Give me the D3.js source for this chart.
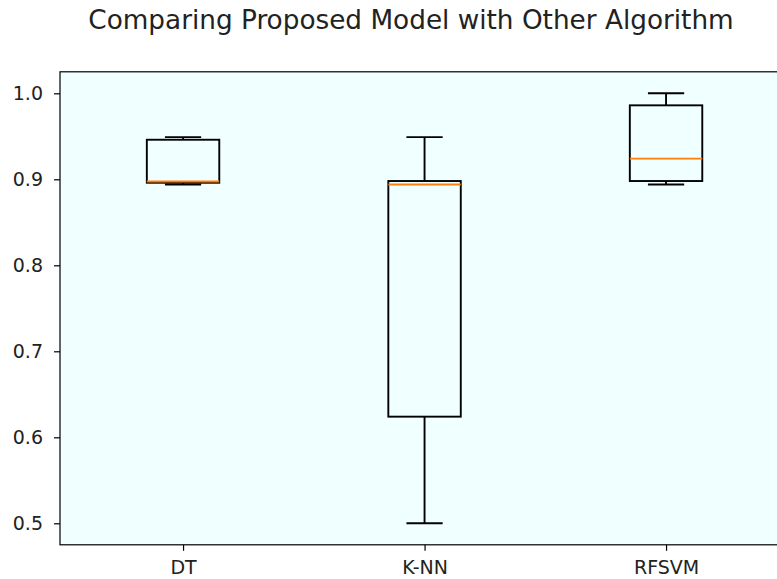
<!DOCTYPE html>
<html>
<head>
<meta charset="utf-8">
<script src="https://cdn.jsdelivr.net/npm/d3@7"></script>
<style>
  body { margin: 0; background: #ffffff; }
  svg { display: block; font-family: "DejaVu Sans", sans-serif; }
</style>
</head>
<body>
<svg id="chart" width="777" height="579"></svg>
<script>
// Data
const categories = ["DT", "K-NN", "RFSVM"];
const whiskerLow  = [0.894, 0.500, 0.894];
const quartile1   = [0.896, 0.624, 0.898];
const medians     = [0.8975, 0.894, 0.924];
const quartile3   = [0.946, 0.898, 0.986];
const whiskerHigh = [0.949, 0.949, 1.000];
const yTicks = [0.5, 0.6, 0.7, 0.8, 0.9, 1.0];
const title = "Comparing Proposed Model with Other Algorithm";

(function () {
const svg = d3.select("#chart");
const pLeft = 60, pRight = 786, pTop = 71.8, pBottom = 544.8;

const x = d3.scaleLinear().domain([0.5, categories.length + 0.5]).range([62.3, 786.8]);
const y = d3.scaleLinear().domain([0.475, 1.025]).range([pBottom, pTop]);

svg.append("rect")
  .attr("x", pLeft).attr("y", pTop)
  .attr("width", pRight - pLeft).attr("height", pBottom - pTop)
  .attr("fill", "#f0ffff");

const boxW = 0.3;
const data = categories.map((c, i) => ({
  c, pos: i + 1,
  lo: whiskerLow[i], q1: quartile1[i], med: medians[i], q3: quartile3[i], hi: whiskerHigh[i]
}));

const g = svg.append("g");
const lw = 1.9;
data.forEach(d => {
  const cx = x(d.pos);
  const hw = x(d.pos + boxW / 2) - cx;
  const cw = hw / 2;
  g.append("line").attr("x1", cx).attr("x2", cx).attr("y1", y(d.q3)).attr("y2", y(d.hi))
    .attr("stroke", "#000").attr("stroke-width", lw);
  g.append("line").attr("x1", cx).attr("x2", cx).attr("y1", y(d.q1)).attr("y2", y(d.lo))
    .attr("stroke", "#000").attr("stroke-width", lw);
  g.append("line").attr("x1", cx - cw).attr("x2", cx + cw).attr("y1", y(d.hi)).attr("y2", y(d.hi))
    .attr("stroke", "#000").attr("stroke-width", lw);
  g.append("line").attr("x1", cx - cw).attr("x2", cx + cw).attr("y1", y(d.lo)).attr("y2", y(d.lo))
    .attr("stroke", "#000").attr("stroke-width", lw);
  g.append("rect").attr("x", cx - hw).attr("width", 2 * hw)
    .attr("y", y(d.q3)).attr("height", y(d.q1) - y(d.q3))
    .attr("fill", "none").attr("stroke", "#000").attr("stroke-width", lw);
  g.append("line").attr("x1", cx - hw).attr("x2", cx + hw).attr("y1", y(d.med)).attr("y2", y(d.med))
    .attr("stroke", "#ff7f0e").attr("stroke-width", lw);
});

svg.append("rect")
  .attr("x", pLeft).attr("y", pTop)
  .attr("width", pRight - pLeft).attr("height", pBottom - pTop)
  .attr("fill", "none").attr("stroke", "#000").attr("stroke-width", 1.2);

const yAxis = svg.append("g").attr("transform", `translate(${pLeft},0)`)
  .call(d3.axisLeft(y).tickValues(yTicks).tickFormat(d3.format(".1f")).tickSize(6).tickPadding(11));
yAxis.select(".domain").remove();
yAxis.selectAll("text").attr("font-size", 19).attr("fill", "#222").attr("font-family", "DejaVu Sans");
yAxis.selectAll("line").attr("stroke", "#000").attr("stroke-width", 1.2);

const xAxis = svg.append("g").attr("transform", `translate(0,${pBottom})`)
  .call(d3.axisBottom(x).tickValues(data.map(d => d.pos)).tickFormat((d, i) => categories[i]).tickSize(6).tickPadding(10));
xAxis.select(".domain").remove();
xAxis.selectAll("text").attr("font-size", 19).attr("fill", "#222").attr("font-family", "DejaVu Sans");
xAxis.selectAll("line").attr("stroke", "#000").attr("stroke-width", 1.2);

svg.append("text")
  .attr("x", 411).attr("y", 29)
  .attr("text-anchor", "middle")
  .attr("font-size", 26.3)
  .attr("fill", "#222")
  .text(title);
})();
</script>
</body>
</html>
